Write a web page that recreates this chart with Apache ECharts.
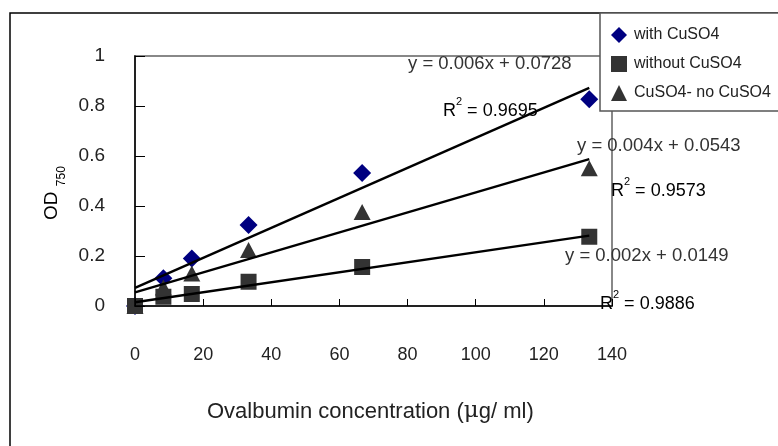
<!DOCTYPE html>
<html><head><meta charset="utf-8">
<script src="https://cdn.jsdelivr.net/npm/echarts@6/dist/echarts.min.js"></script>
<style>html,body{margin:0;padding:0;background:#fff}#c{width:778px;height:446px}</style>
</head><body><div id="c"></div>
<script>
const seriesNames = ['with CuSO4', 'without CuSO4', 'CuSO4- no CuSO4'];
const xValues = [0, 8.33, 16.67, 33.33, 66.67, 133.33];
const withCuSO4 = [0, 0.111, 0.19, 0.324, 0.532, 0.827];
const withoutCuSO4 = [0, 0.037, 0.048, 0.097, 0.156, 0.277];
const diffCuSO4 = [0, 0.074, 0.13, 0.224, 0.376, 0.551];
const slopes = [0.006, 0.002, 0.004];
const intercepts = [0.0728, 0.0149, 0.0543];
const trendRange = [0, 133.33];
const eqTexts = ['y = 0.006x + 0.0728', 'y = 0.002x + 0.0149', 'y = 0.004x + 0.0543'];
const r2Values = ['0.9695', '0.9886', '0.9573'];
const xTicks = [0, 20, 40, 60, 80, 100, 120, 140];
const yTicks = [0, 0.2, 0.4, 0.6, 0.8, 1];

const FONT = "'Liberation Sans', Arial, sans-serif";
const chart = echarts.init(document.getElementById('c'));
const allY = [withCuSO4, withoutCuSO4, diffCuSO4];
const symbols = ['diamond', 'rect', 'triangle'];
const colors = ['#000080', '#333333', '#333333'];
const sizes = [[18, 18], [16, 16], [17, 16]];

const series = [];
allY.forEach((ys, i) => {
  series.push({
    name: seriesNames[i], type: 'scatter', symbol: symbols[i], symbolSize: sizes[i],
    itemStyle: { color: colors[i], opacity: 1 }, z: 2 + i,
    data: xValues.map((x, k) => [x, ys[k]])
  });
});
slopes.forEach((m, i) => {
  series.push({
    name: 'trend' + i, type: 'line', showSymbol: false, symbol: 'none', z: 6,
    lineStyle: { color: '#000', width: 2.4 }, silent: true,
    data: trendRange.map(x => [x, m * x + intercepts[i]])
  });
});

// annotation placements (pixels)
const eqPos = [[408, 54], [565, 246], [577, 136]];
const r2Pos = [[443, 96], [600, 289], [611, 176]];
const graphic = [
  { type: 'rect', shape: { x: 10, y: 13, width: 820, height: 500 }, style: { fill: 'none', stroke: '#000', lineWidth: 1.5 }, z: 0, silent: true },
  { type: 'rect', shape: { x: 600, y: 13, width: 220, height: 98 }, style: { fill: '#fff', stroke: '#555', lineWidth: 1.5 }, z: 50, silent: true }
];
eqTexts.forEach((t, i) => {
  graphic.push({ type: 'text', x: eqPos[i][0], y: eqPos[i][1], z: 40,
    style: { text: t, font: '18.5px ' + FONT, fill: '#333' } });
  graphic.push({ type: 'text', x: r2Pos[i][0], y: r2Pos[i][1], z: 40,
    style: { text: '{r|R}{s|2}{t| = ' + r2Values[i] + '}', rich: {
      r: { fontSize: 18, fontFamily: FONT, color: '#333', lineHeight: 24, verticalAlign: 'bottom' },
      s: { fontSize: 11, fontFamily: FONT, color: '#333', lineHeight: 24, verticalAlign: 'top', padding: [0, 0, 8, 0] },
      t: { fontSize: 18, fontFamily: FONT, color: '#333', lineHeight: 24, verticalAlign: 'bottom' } } } });
});
graphic.push({ type: 'text', x: 207, y: 400, z: 40,
  style: { text: 'Ovalbumin concentration ({m|μ}g/ ml)', font: '22px ' + FONT, fill: '#222',
    rich: { m: { fontSize: 23, fontFamily: "'DejaVu Serif', serif", color: '#222' } } } });
graphic.push({ type: 'text', x: 42, y: 220, rotation: Math.PI / 2, z: 40,
  style: { text: '{a|OD }{b|750}', rich: {
    a: { fontSize: 19, fontFamily: FONT, color: '#222', lineHeight: 26, verticalAlign: 'top' },
    b: { fontSize: 12, fontFamily: FONT, color: '#222', lineHeight: 26, verticalAlign: 'bottom', padding: [10, 0, 0, 0] } } } });

chart.setOption({
  animation: false,
  backgroundColor: '#fff',
  grid: { left: 135, right: 166, top: 56, bottom: 140, show: true, borderColor: '#888', borderWidth: 2, backgroundColor: 'transparent' },
  legend: {
    data: seriesNames.map((n, i) => ({ name: n, icon: symbols[i] })),
    orient: 'vertical', left: 606, top: 22, itemGap: 13, itemWidth: 16, itemHeight: 16, z: 60,
    itemStyle: { opacity: 1 },
    textStyle: { fontSize: 16, fontFamily: FONT, color: '#222', padding: [0, 0, 0, 2] }
  },
  xAxis: {
    type: 'value', min: xTicks[0], max: xTicks[xTicks.length - 1], interval: 20, z: 5,
    axisLine: { lineStyle: { color: '#000', width: 1.5 } },
    axisTick: { inside: true, length: 7, lineStyle: { color: '#000' } },
    splitLine: { show: false },
    axisLabel: { margin: 40, fontSize: 18, fontFamily: FONT, color: '#222' }
  },
  yAxis: {
    type: 'value', min: yTicks[0], max: yTicks[yTicks.length - 1], interval: 0.2, z: 5,
    axisLine: { show: true, lineStyle: { color: '#000', width: 1.5 } },
    axisTick: { show: true, inside: true, length: 10, lineStyle: { color: '#000' } },
    splitLine: { show: false },
    axisLabel: { margin: 30, fontSize: 19, fontFamily: FONT, color: '#222' }
  },
  graphic: graphic,
  series: series
});
</script></body></html>
